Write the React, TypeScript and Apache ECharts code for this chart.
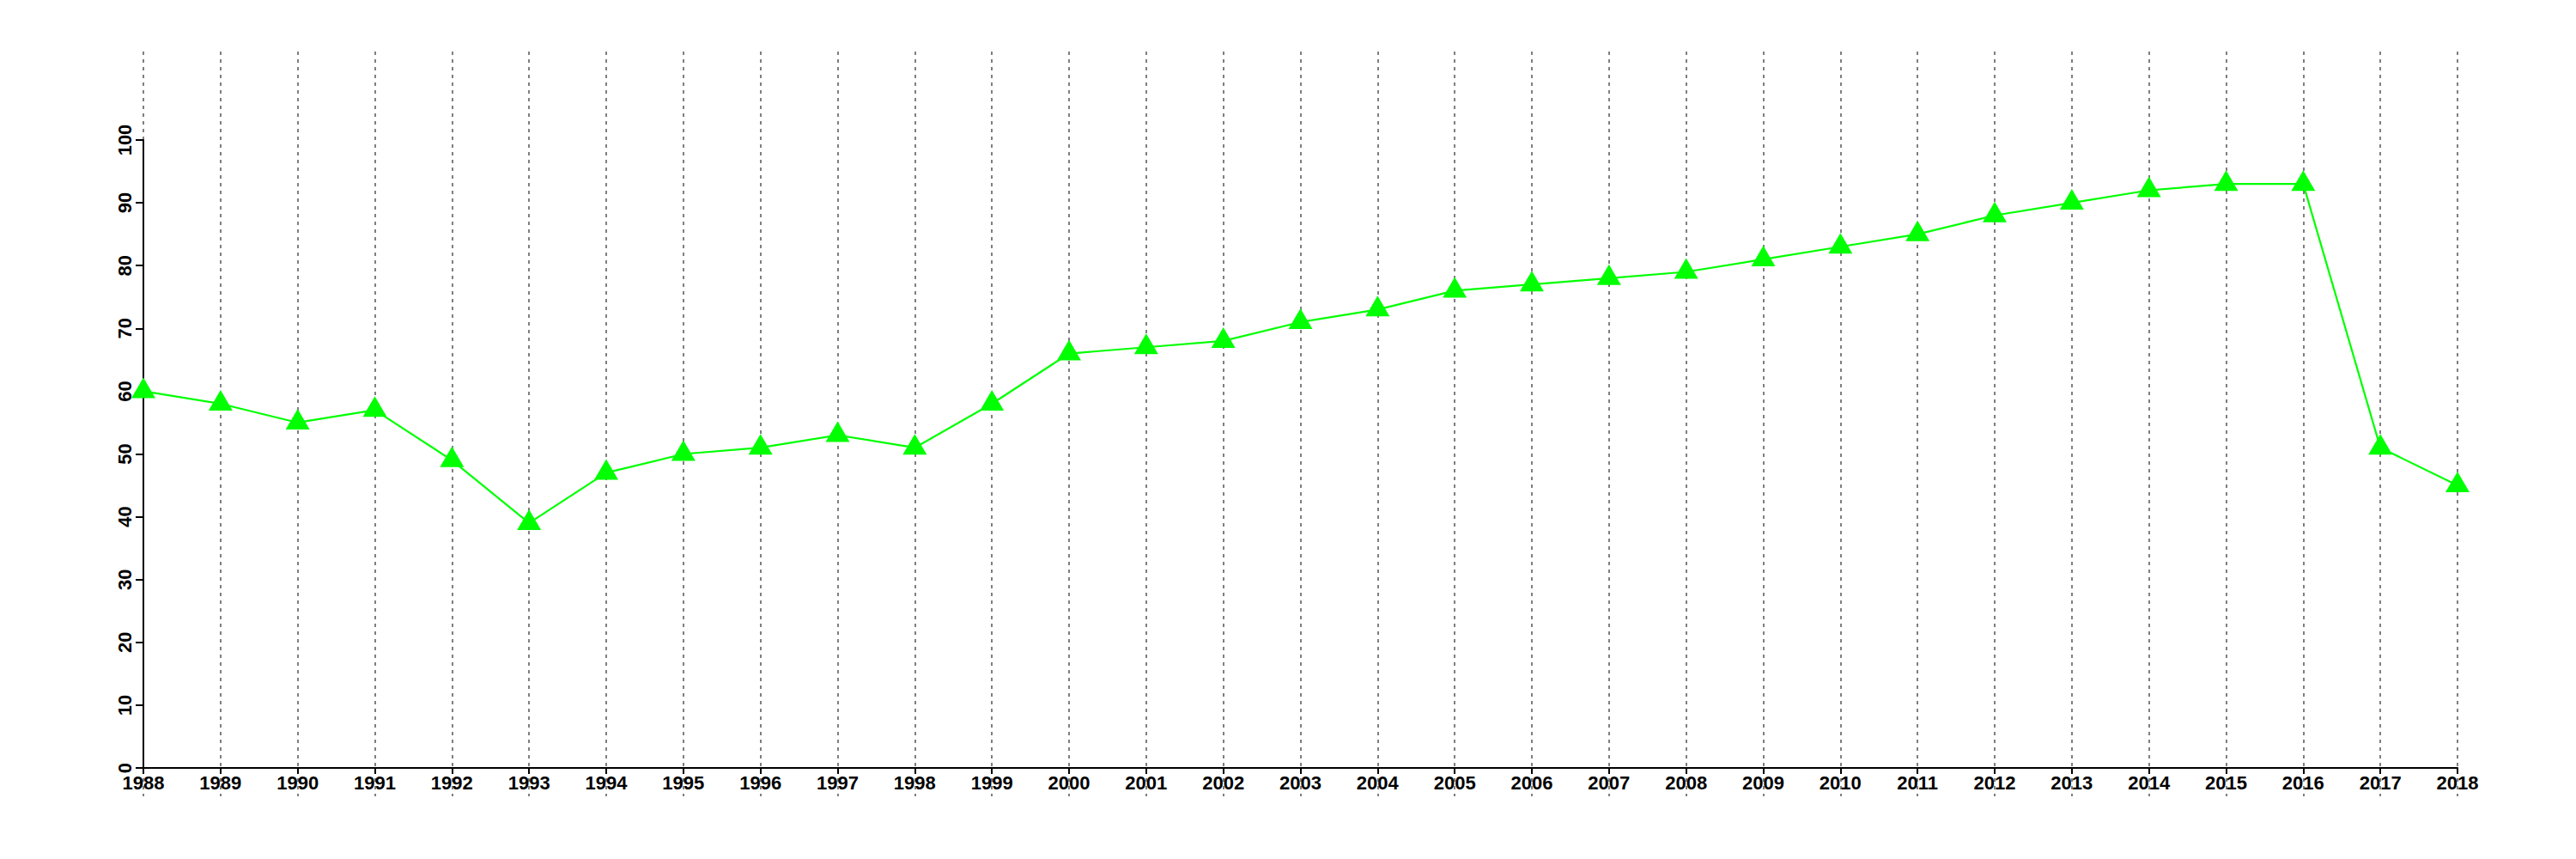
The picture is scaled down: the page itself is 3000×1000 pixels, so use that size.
import React, { useEffect, useRef } from "react";
import * as echarts from "echarts";

const years: string[] = [
  "1988", "1989", "1990", "1991", "1992", "1993", "1994", "1995", "1996", "1997",
  "1998", "1999", "2000", "2001", "2002", "2003", "2004", "2005", "2006", "2007",
  "2008", "2009", "2010", "2011", "2012", "2013", "2014", "2015", "2016", "2017", "2018",
];

const values: number[] = [
  60, 58, 55, 57, 49, 39, 47, 50, 51, 53,
  51, 58, 66, 67, 68, 71, 73, 76, 77, 78,
  79, 81, 83, 85, 88, 90, 92, 93, 93, 51, 45,
];

const yMin = 0;
const yMax = 100;
const yStep = 10;

export default function App() {
  const ref = useRef<HTMLDivElement>(null);

  useEffect(() => {
    if (!ref.current) return;
    const chart = echarts.init(ref.current, null, { renderer: "svg" });
    const font = "'Liberation Sans', Arial, Helvetica, sans-serif";
    chart.setOption({
      animation: false,
      backgroundColor: "#ffffff",
      grid: [
        { left: 167, right: 138, top: 163, bottom: 106 },
        { left: 167, right: 138, top: 60, bottom: 73 },
      ],
      xAxis: [
        {
          type: "category",
          gridIndex: 0,
          data: years,
          boundaryGap: false,
          axisLine: { show: true, onZero: true, lineStyle: { color: "#000", width: 2 } },
          axisTick: { show: true, length: 7, lineStyle: { color: "#000", width: 2 } },
          axisLabel: {
            show: true,
            interval: 0,
            margin: 6,
            color: "#000",
            fontSize: 22,
            fontWeight: "bold",
            fontFamily: font,
          },
          splitLine: { show: false },
          z: 3,
        },
        {
          type: "category",
          gridIndex: 1,
          data: years,
          boundaryGap: false,
          axisLine: { show: false },
          axisTick: { show: false },
          axisLabel: { show: false },
          splitLine: {
            show: true,
            interval: 0,
            lineStyle: { color: "#7f7f7f", width: 2, type: [4, 5] },
          },
          z: 0,
        },
      ],
      yAxis: [
        {
          type: "value",
          gridIndex: 0,
          min: yMin,
          max: yMax,
          interval: yStep,
          axisLine: { show: true, lineStyle: { color: "#000", width: 2 } },
          axisTick: { show: true, length: 9, lineStyle: { color: "#000", width: 2 } },
          axisLabel: {
            show: true,
            rotate: 90,
            margin: 11,
            color: "#000",
            fontSize: 22,
            fontWeight: "bold",
            fontFamily: font,
          },
          splitLine: { show: false },
          z: 3,
        },
        {
          type: "value",
          gridIndex: 1,
          min: 0,
          max: 1,
          show: false,
          splitLine: { show: false },
        },
      ],
      series: [
        {
          type: "line",
          xAxisIndex: 0,
          yAxisIndex: 0,
          data: values,
          symbol: "triangle",
          symbolSize: [28, 24],
          symbolOffset: [0, -4],
          showAllSymbol: true,
          lineStyle: { color: "#00ff00", width: 2.2 },
          itemStyle: { color: "#00ff00" },
          z: 5,
        },
        {
          type: "line",
          xAxisIndex: 1,
          yAxisIndex: 1,
          data: [],
          silent: true,
        },
      ],
    });
    return () => chart.dispose();
  }, []);

  return (
    <div
      ref={ref}
      style={{ position: "absolute", left: 0, top: 0, width: 3000, height: 1000 }}
    />
  );
}
